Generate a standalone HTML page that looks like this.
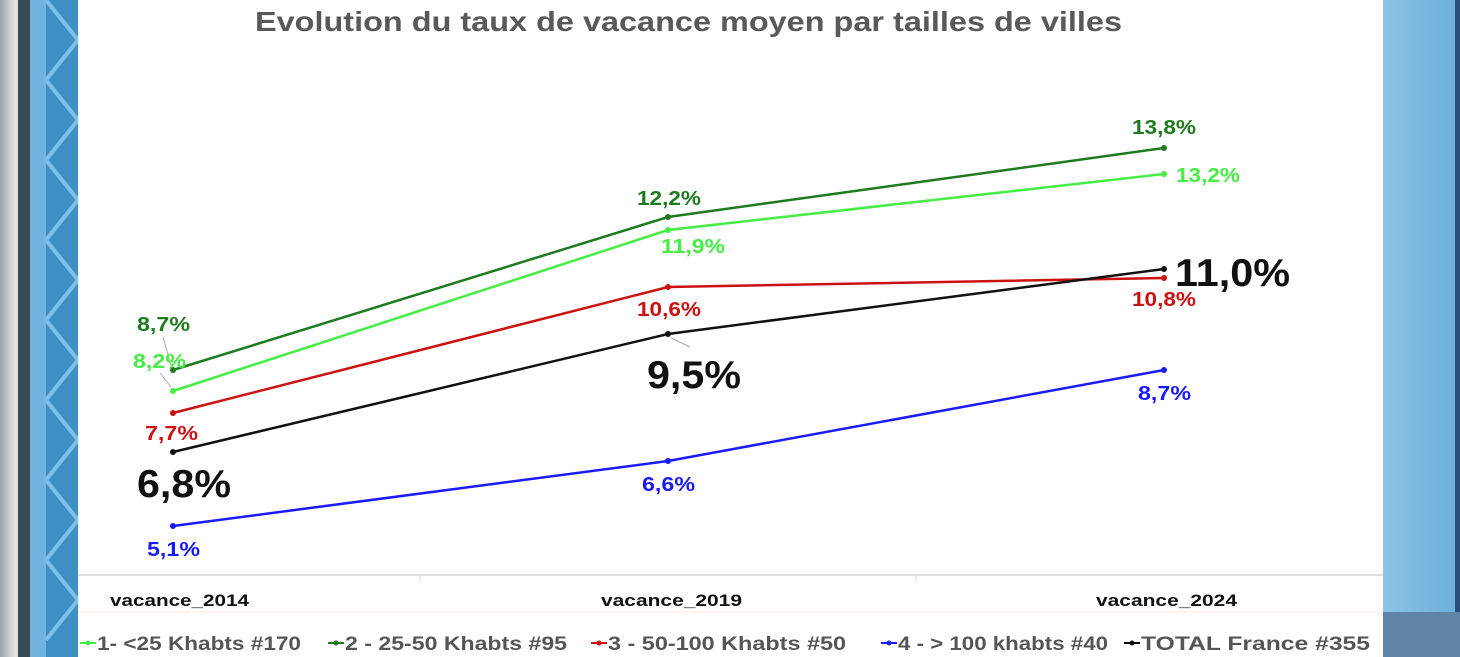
<!DOCTYPE html>
<html><head><meta charset="utf-8"><style>
html,body{margin:0;padding:0;width:1460px;height:657px;overflow:hidden;background:#fff}
</style></head><body>
<svg width="1460" height="657" viewBox="0 0 1460 657" xmlns="http://www.w3.org/2000/svg" font-family="Liberation Sans, sans-serif" font-weight="bold">
<defs>
<linearGradient id="pipe" x1="0" x2="1"><stop offset="0" stop-color="#9aa3a8"/><stop offset="0.5" stop-color="#e6e6e2"/><stop offset="1" stop-color="#b8bcbc"/></linearGradient>
<linearGradient id="rb" x1="0" x2="1"><stop offset="0" stop-color="#8cc3e3"/><stop offset="1" stop-color="#6aaedb"/></linearGradient>
</defs>
<rect x="0" y="0" width="30" height="657" fill="url(#pipe)"/>
<rect x="18" y="0" width="14" height="657" fill="#3c4a55"/>
<rect x="30" y="0" width="48" height="657" fill="#3d8fc4"/>
<rect x="30" y="0" width="16" height="657" fill="#6fb3de"/>
<g stroke="#7fc0e6" stroke-width="4">
<path d="M46 0 L78 40 M46 80 L78 40 M46 80 L78 120 M46 160 L78 120 M46 160 L78 200 M46 240 L78 200 M46 240 L78 280 M46 320 L78 280 M46 320 L78 360 M46 400 L78 360 M46 400 L78 440 M46 480 L78 440 M46 480 L78 520 M46 560 L78 520 M46 560 L78 600 M46 640 L78 600"/>
</g>
<rect x="1383" y="0" width="77" height="657" fill="url(#rb)"/>
<rect x="1455" y="0" width="5" height="657" fill="#2a4f7a"/>
<rect x="1383" y="612" width="77" height="45" fill="#5f84a8"/>
<rect x="78" y="0" width="1305" height="657" fill="#fff"/>
<text x="255" y="31" font-size="28" fill="#595959" textLength="867" lengthAdjust="spacingAndGlyphs">Evolution du taux de vacance moyen par tailles de villes</text>
<line x1="78" y1="575" x2="1383" y2="575" stroke="#e0e0e0" stroke-width="2"/>
<line x1="78" y1="612" x2="1383" y2="612" stroke="#f3ece6" stroke-width="1"/>
<line x1="420" y1="575" x2="420" y2="582" stroke="#ddd"/>
<line x1="916" y1="575" x2="916" y2="582" stroke="#ddd"/>
<g font-size="17" fill="#111">
<text x="110" y="606" textLength="139" lengthAdjust="spacingAndGlyphs">vacance_2014</text>
<text x="601" y="606" textLength="141" lengthAdjust="spacingAndGlyphs">vacance_2019</text>
<text x="1096" y="606" textLength="141" lengthAdjust="spacingAndGlyphs">vacance_2024</text>
</g>
<line x1="163" y1="337" x2="171" y2="365" stroke="#aaa" stroke-width="1"/>
<line x1="160" y1="373" x2="171" y2="387" stroke="#aaa" stroke-width="1"/>
<line x1="671" y1="338" x2="690" y2="347" stroke="#aaa" stroke-width="1"/>
<g stroke-width="2.5" fill="none">
<polyline points="173,370 668,217 1164,148" stroke="#1e7a1e"/>
<polyline points="173,391 668,230 1164,174" stroke="#44ee44"/>
<polyline points="173,413 668,287 1164,278" stroke="#cc1111"/>
<polyline points="173,452 668,334 1164,269" stroke="#111"/>
<polyline points="173,526 668,461 1164,370" stroke="#1a1aff"/>
</g>
<g>
<circle cx="173" cy="370" r="3" fill="#1e7a1e"/><circle cx="668" cy="217" r="3" fill="#1e7a1e"/><circle cx="1164" cy="148" r="3" fill="#1e7a1e"/>
<circle cx="173" cy="391" r="3" fill="#44ee44"/><circle cx="668" cy="230" r="3" fill="#44ee44"/><circle cx="1164" cy="174" r="3" fill="#44ee44"/>
<circle cx="173" cy="413" r="3" fill="#cc1111"/><circle cx="668" cy="287" r="3" fill="#cc1111"/><circle cx="1164" cy="278" r="3" fill="#cc1111"/>
<circle cx="173" cy="452" r="3" fill="#111"/><circle cx="668" cy="334" r="3" fill="#111"/><circle cx="1164" cy="269" r="3" fill="#111"/>
<circle cx="173" cy="526" r="3" fill="#1a1aff"/><circle cx="668" cy="461" r="3" fill="#1a1aff"/><circle cx="1164" cy="370" r="3" fill="#1a1aff"/>
</g>
<g font-size="20">
<text x="137" y="331" fill="#1e7a1e" textLength="53" lengthAdjust="spacingAndGlyphs">8,7%</text>
<text x="637" y="205" fill="#1e7a1e" textLength="64" lengthAdjust="spacingAndGlyphs">12,2%</text>
<text x="1132" y="134" fill="#1e7a1e" textLength="64" lengthAdjust="spacingAndGlyphs">13,8%</text>
<text x="133" y="368" fill="#44ee44" textLength="53" lengthAdjust="spacingAndGlyphs">8,2%</text>
<text x="661" y="253" fill="#44ee44" textLength="64" lengthAdjust="spacingAndGlyphs">11,9%</text>
<text x="1176" y="182" fill="#44ee44" textLength="64" lengthAdjust="spacingAndGlyphs">13,2%</text>
<text x="145" y="440" fill="#cc1111" textLength="53" lengthAdjust="spacingAndGlyphs">7,7%</text>
<text x="637" y="316" fill="#cc1111" textLength="64" lengthAdjust="spacingAndGlyphs">10,6%</text>
<text x="1132" y="306" fill="#cc1111" textLength="64" lengthAdjust="spacingAndGlyphs">10,8%</text>
<text x="147" y="556" fill="#1a1aff" textLength="53" lengthAdjust="spacingAndGlyphs">5,1%</text>
<text x="642" y="491" fill="#1a1aff" textLength="53" lengthAdjust="spacingAndGlyphs">6,6%</text>
<text x="1138" y="400" fill="#1a1aff" textLength="53" lengthAdjust="spacingAndGlyphs">8,7%</text>
</g>
<g font-size="39" fill="#111">
<text x="137" y="497" textLength="94" lengthAdjust="spacingAndGlyphs">6,8%</text>
<text x="647" y="388" textLength="94" lengthAdjust="spacingAndGlyphs">9,5%</text>
<text x="1175" y="286" textLength="115" lengthAdjust="spacingAndGlyphs">11,0%</text>
</g>
<g font-size="19" fill="#555">
<line x1="80" y1="643" x2="96" y2="643" stroke="#44ee44" stroke-width="2"/><circle cx="88" cy="643" r="2.5" fill="#44ee44"/>
<text x="97" y="650" textLength="204" lengthAdjust="spacingAndGlyphs">1- &lt;25 Khabts #170</text>
<line x1="328" y1="643" x2="344" y2="643" stroke="#1e7a1e" stroke-width="2"/><circle cx="336" cy="643" r="2.5" fill="#1e7a1e"/>
<text x="345" y="650" textLength="222" lengthAdjust="spacingAndGlyphs">2 - 25-50 Khabts #95</text>
<line x1="591" y1="643" x2="607" y2="643" stroke="#cc1111" stroke-width="2"/><circle cx="599" cy="643" r="2.5" fill="#cc1111"/>
<text x="608" y="650" textLength="238" lengthAdjust="spacingAndGlyphs">3 - 50-100 Khabts #50</text>
<line x1="881" y1="643" x2="897" y2="643" stroke="#1a1aff" stroke-width="2"/><circle cx="889" cy="643" r="2.5" fill="#1a1aff"/>
<text x="898" y="650" textLength="210" lengthAdjust="spacingAndGlyphs">4 - &gt; 100 khabts #40</text>
<line x1="1124" y1="643" x2="1140" y2="643" stroke="#111" stroke-width="2"/><circle cx="1132" cy="643" r="2.5" fill="#111"/>
<text x="1141" y="650" textLength="229" lengthAdjust="spacingAndGlyphs">TOTAL France #355</text>
</g>
</svg>
</body></html>
